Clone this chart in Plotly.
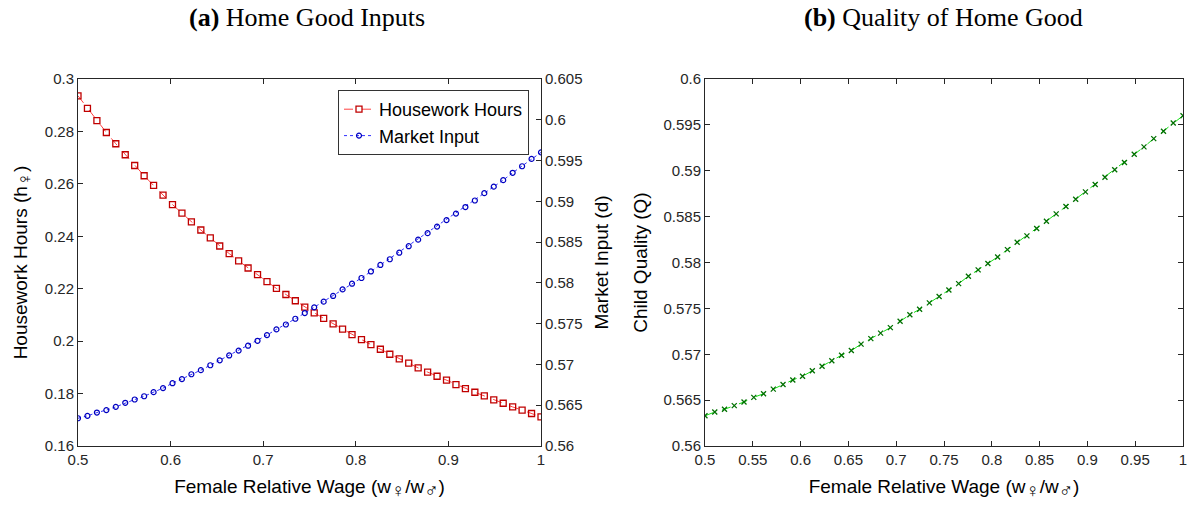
import numpy as np
import plotly.graph_objects as go

# x grid: 50 points from 0.5 to 1
wage_ratio = np.linspace(0.5, 1.0, 50)

housework_hours = [
    0.2936, 0.2888, 0.2841, 0.2796, 0.2753, 0.2711, 0.2670, 0.2631, 0.2594, 0.2557,
    0.2521, 0.2488, 0.2455, 0.2424, 0.2394, 0.2363, 0.2334, 0.2306, 0.2279, 0.2254,
    0.2227, 0.2201, 0.2178, 0.2154, 0.2130, 0.2108, 0.2087, 0.2066, 0.2046, 0.2025,
    0.2006, 0.1987, 0.1969, 0.1950, 0.1932, 0.1916, 0.1898, 0.1882, 0.1866, 0.1851,
    0.1834, 0.1819, 0.1805, 0.1791, 0.1776, 0.1763, 0.1749, 0.1737, 0.1724, 0.1711,
]

market_input = [
    0.5634, 0.5637, 0.5641, 0.5644, 0.5648, 0.5653, 0.5657, 0.5661, 0.5666, 0.5671,
    0.5677, 0.5682, 0.5688, 0.5693, 0.5699, 0.5705, 0.5711, 0.5717, 0.5723, 0.5729,
    0.5736, 0.5743, 0.5749, 0.5756, 0.5763, 0.5770, 0.5777, 0.5784, 0.5792, 0.5799,
    0.5806, 0.5814, 0.5822, 0.5829, 0.5837, 0.5845, 0.5853, 0.5861, 0.5869, 0.5877,
    0.5885, 0.5893, 0.5901, 0.5910, 0.5918, 0.5926, 0.5935, 0.5943, 0.5952, 0.5960,
]

child_quality = [
    0.5633, 0.5637, 0.5640, 0.5644, 0.5648, 0.5653, 0.5657, 0.5662, 0.5667, 0.5672,
    0.5676, 0.5682, 0.5687, 0.5693, 0.5699, 0.5704, 0.5711, 0.5717, 0.5723, 0.5729,
    0.5736, 0.5743, 0.5749, 0.5756, 0.5763, 0.5770, 0.5777, 0.5785, 0.5792, 0.5799,
    0.5806, 0.5814, 0.5822, 0.5829, 0.5837, 0.5845, 0.5853, 0.5861, 0.5869, 0.5877,
    0.5885, 0.5893, 0.5901, 0.5909, 0.5918, 0.5926, 0.5935, 0.5943, 0.5952, 0.5960,
]

left_x_ticks = [0.5, 0.6, 0.7, 0.8, 0.9, 1.0]
left_y_ticks = [0.16, 0.18, 0.2, 0.22, 0.24, 0.26, 0.28, 0.3]
left_y2_ticks = [0.56, 0.565, 0.57, 0.575, 0.58, 0.585, 0.59, 0.595, 0.6, 0.605]
right_x_ticks = [0.5, 0.55, 0.6, 0.65, 0.7, 0.75, 0.8, 0.85, 0.9, 0.95, 1.0]
right_y_ticks = [0.56, 0.565, 0.57, 0.575, 0.58, 0.585, 0.59, 0.595, 0.6]

AX = "#262626"
SANS = "Liberation Sans, Arial, sans-serif"
SERIF = "Liberation Serif, DejaVu Serif, serif"
TICKF = dict(family=SANS, size=15, color=AX)
TITLEF = dict(family=SANS, size=19, color="#000000")
FEM = "<sub><span style='font-size:19px'>♀</span></sub>"
MAL = "<sub><span style='font-size:19px'>♂</span></sub>"
XTITLE = f"Female Relative Wage (w{FEM}/w{MAL})"

W, H = 1188, 508


def px(x):
    return x / W


def py(y):
    return 1 - y / H


fig = go.Figure()

fig.add_trace(go.Scatter(
    x=wage_ratio, y=housework_hours, name="Housework Hours",
    mode="lines+markers", xaxis="x", yaxis="y",
    line=dict(color="#ff4040", width=1, dash="dash"),
    marker=dict(symbol="square-open", size=6, color="#c00000", line=dict(width=1.3, color="#c00000")),
))
fig.add_trace(go.Scatter(
    x=wage_ratio, y=market_input, name="Market Input",
    mode="lines+markers", xaxis="x", yaxis="y2",
    line=dict(color="#3030ff", width=1, dash="dot"),
    marker=dict(symbol="circle-open", size=5, color="#0000c0", line=dict(width=1.2, color="#0000c0")),
))
fig.add_trace(go.Scatter(
    x=wage_ratio, y=child_quality, name="Child Quality",
    mode="lines+markers", xaxis="x2", yaxis="y3", showlegend=False,
    line=dict(color="#10e010", width=1, dash="dash"),
    marker=dict(symbol="x-thin-open", size=5, color="#007000", line=dict(width=1.3, color="#007000")),
))

common = dict(showgrid=False, zeroline=False, showline=True, linecolor=AX, linewidth=1,
              ticks="inside", ticklen=5, tickcolor=AX, tickwidth=1, tickfont=TICKF,
              automargin=False, ticklabeloverflow="allow")

ydom = [py(446), py(79)]

fig.update_layout(
    width=W, height=H,
    margin=dict(l=0, r=0, t=0, b=0),
    paper_bgcolor="white", plot_bgcolor="white",
    xaxis=dict(domain=[px(78), px(541)], range=[0.5, 1.0], anchor="y",
               tickvals=left_x_ticks, ticktext=[f"{v:g}" for v in left_x_ticks],
               mirror="ticks",
               title=dict(text=XTITLE, font=TITLEF, standoff=12),
               **common),
    yaxis=dict(domain=ydom, range=[0.16, 0.3], anchor="x",
               tickvals=left_y_ticks, ticktext=[f"{v:g}" for v in left_y_ticks],
               title=dict(text=f"Housework Hours (h{FEM})", font=TITLEF, standoff=12),
               **common),
    yaxis2=dict(domain=ydom, range=[0.56, 0.605], anchor="x", overlaying="y", side="right",
                tickvals=left_y2_ticks, ticktext=[f"{v:g}" for v in left_y2_ticks],
                title=dict(text="Market Input (d)", font=TITLEF, standoff=13),
                **common),
    xaxis2=dict(domain=[px(705), px(1183)], range=[0.5, 1.0], anchor="y3",
                tickvals=right_x_ticks, ticktext=[f"{v:g}" for v in right_x_ticks],
                mirror="ticks",
                title=dict(text=XTITLE, font=TITLEF, standoff=12),
                **common),
    yaxis3=dict(domain=ydom, range=[0.56, 0.6], anchor="x2",
                tickvals=right_y_ticks, ticktext=[f"{v:g}" for v in right_y_ticks],
                mirror="ticks",
                title=dict(text="Child Quality (Q)", font=TITLEF, standoff=10),
                **common),
    legend=dict(x=px(529), y=py(90), xanchor="right", yanchor="top",
                bgcolor="white", bordercolor="#333333", borderwidth=1,
                font=dict(family=SANS, size=18, color="#000000"),
                tracegroupgap=0, itemsizing="trace"),
    showlegend=True,
    annotations=[
        dict(text="<b>(a)</b> Home Good Inputs", x=px(307), y=py(17),
             xref="paper", yref="paper", xanchor="center", yanchor="middle",
             showarrow=False, font=dict(family=SERIF, size=26, color="#000000")),
        dict(text="<b>(b)</b> Quality of Home Good", x=px(943), y=py(17),
             xref="paper", yref="paper", xanchor="center", yanchor="middle",
             showarrow=False, font=dict(family=SERIF, size=26, color="#000000")),
    ],
)

fig.write_html("out.html", config={"displayModeBar": False},
               post_script="document.body.style.margin='0px';")
